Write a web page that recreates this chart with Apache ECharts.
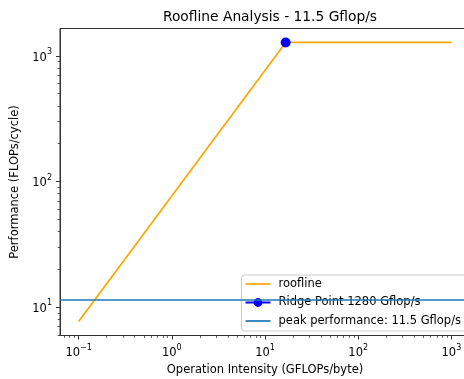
<!DOCTYPE html>
<html><head><meta charset="utf-8">
<script src="https://cdn.jsdelivr.net/npm/echarts@6/dist/echarts.min.js"></script>
<style>html,body{margin:0;padding:0;background:#fff;overflow:hidden}#c{width:472px;height:379px}</style>
</head><body><div id="c"></div>
<script>
// Data
const rooflineX = [0.1, 16.67, 1000];
const rooflineY = [7.68, 1280, 1280];
const ridgeX = [16.67];
const ridgeY = [1280];
const peakPerf = 11.5;
const xMajorTicks = [0.1, 1, 10, 100, 1000];
const yMajorTicks = [10, 100, 1000];
const xMinorTicks = [0.07,0.08,0.09,0.2,0.3,0.4,0.5,0.6,0.7,0.8,0.9,2,3,4,5,6,7,8,9,20,30,40,50,60,70,80,90,200,300,400,500,600,700,800,900];
const yMinorTicks = [6,7,8,9,20,30,40,50,60,70,80,90,200,300,400,500,600,700,800,900];
const seriesNames = ['roofline', 'Ridge Point 1280 Gflop/s', 'peak performance: 11.5 Gflop/s'];
const xRange = [0.0631, 1585];
const yRange = [5.94, 1652];

const FONT = 'DejaVu Sans';
function sup(v) {
  const e = Math.round(Math.log10(v));
  return '{b|10}{s|' + (e < 0 ? '\u2212' + (-e) : e) + '}';
}
const rich = {
  b: {fontSize: 11.5, fontFamily: FONT, color: '#000', lineHeight: 16, verticalAlign: 'bottom'},
  s: {fontSize: 8, fontFamily: FONT, color: '#000', lineHeight: 16, verticalAlign: 'top'}
};
function majorAxis(range, ticks, isX, name) {
  return {
    type: 'log', logBase: 10, min: range[0], max: range[1],
    position: isX ? 'bottom' : 'left',
    name: name, nameLocation: 'middle', nameGap: isX ? 27 : 32,
    nameTextStyle: {fontSize: 11.5, fontFamily: FONT, color: '#000'},
    axisLine: {show: true, onZero: false, lineStyle: {color: '#333', width: 1}},
    axisTick: {show: true, length: 4, customValues: ticks, lineStyle: {color: '#333', width: 1}},
    axisLabel: {show: true, customValues: ticks, margin: 8, formatter: sup, rich: rich},
    splitLine: {show: false}, minorTick: {show: false}
  };
}
function minorAxis(range, ticks, isX) {
  return {
    type: 'log', logBase: 10, min: range[0], max: range[1],
    position: isX ? 'bottom' : 'left', offset: 0,
    axisLine: {show: false, onZero: false},
    axisTick: {show: true, length: 2.3, customValues: ticks, lineStyle: {color: '#333', width: 0.8}},
    axisLabel: {show: false}, splitLine: {show: false}
  };
}
const lineIcon = 'path://M0,0L25,0L25,1.7L0,1.7Z';
const chart = echarts.init(document.getElementById('c'), null, {renderer: 'canvas'});
chart.setOption({
  animation: false,
  backgroundColor: '#fff',
  title: {text: 'Roofline Analysis - 11.5 Gflop/s', left: 265, textAlign: 'center', top: 5,
    textStyle: {fontSize: 13.8, fontWeight: 'normal', fontFamily: FONT, color: '#000'}},
  grid: {left: 60, top: 28.5, right: 2, bottom: 43.5, show: true, borderColor: '#333', borderWidth: 1,
    containLabel: false, outerBoundsMode: 'none'},
  xAxis: [majorAxis(xRange, xMajorTicks, true, 'Operation Intensity (GFLOPs/byte)'), minorAxis(xRange, xMinorTicks, true)],
  yAxis: [majorAxis(yRange, yMajorTicks, false, 'Performance (FLOPs/cycle)'), minorAxis(yRange, yMinorTicks, false)],
  legend: {
    orient: 'vertical', left: 241.5, top: 275, padding: [3, 10, 4, 3],
    itemWidth: 25, itemHeight: 11, itemGap: 6.5,
    backgroundColor: 'rgba(255,255,255,0.8)', borderColor: '#ccc', borderWidth: 1, borderRadius: 3,
    textStyle: {fontSize: 11.5, fontFamily: FONT, color: '#000', padding: [0, 0, 0, 3]},
    data: [
      {name: seriesNames[0], icon: lineIcon},
      {name: seriesNames[1]},
      {name: seriesNames[2], icon: lineIcon}
    ]
  },
  series: [
    {name: seriesNames[0], type: 'line', xAxisIndex: 0, yAxisIndex: 0, symbol: 'none',
     color: '#FFA500', lineStyle: {color: '#FFA500', width: 1.7},
     data: rooflineX.map((x, i) => [x, rooflineY[i]])},
    {name: seriesNames[1], type: 'line', xAxisIndex: 0, yAxisIndex: 0, symbol: 'circle', symbolSize: 10,
     color: '#0000FF', itemStyle: {color: '#0000FF'}, lineStyle: {color: '#0000FF', width: 1.7}, z: 5,
     data: ridgeX.map((x, i) => [x, ridgeY[i]])},
    {name: seriesNames[2], type: 'line', xAxisIndex: 0, yAxisIndex: 0, symbol: 'none',
     color: '#1f77b4', lineStyle: {color: '#1f77b4', width: 1.7}, data: [],
     markLine: {silent: true, symbol: 'none', label: {show: false},
       lineStyle: {color: '#1f77b4', width: 1.7, type: 'solid'},
       data: [{yAxis: peakPerf}]}}
  ]
});
</script></body></html>
